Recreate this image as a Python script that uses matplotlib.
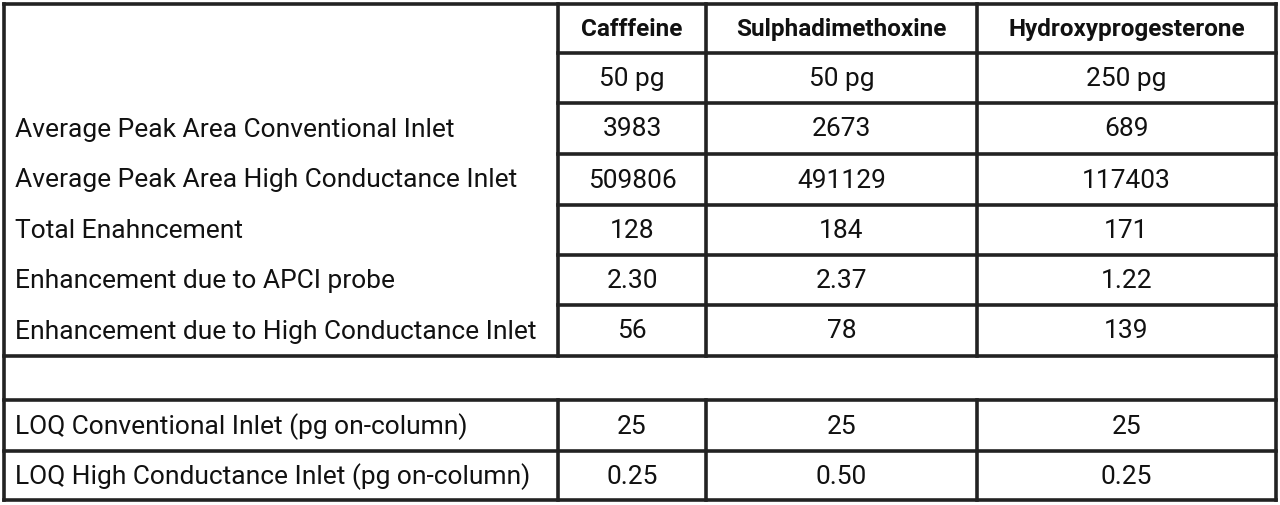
import matplotlib
matplotlib.use("Agg")
import matplotlib.pyplot as plt

compounds = ["Cafffeine", "Sulphadimethoxine", "Hydroxyprogesterone"]
amounts = ["50 pg", "50 pg", "250 pg"]
row_labels = ["Average Peak Area Conventional Inlet",
              "Average Peak Area High Conductance Inlet",
              "Total Enahncement",
              "Enhancement due to APCI probe",
              "Enhancement due to High Conductance Inlet"]
row_values = [["3983", "2673", "689"],
              ["509806", "491129", "117403"],
              ["128", "184", "171"],
              ["2.30", "2.37", "1.22"],
              ["56", "78", "139"]]
loq_labels = ["LOQ Conventional Inlet (pg on-column)",
              "LOQ High Conductance Inlet (pg on-column)"]
loq_values = [["25", "25", "25"], ["0.25", "0.50", "0.25"]]

W, H = 1280, 505
fig = plt.figure(figsize=(12.8, 5.05), dpi=100)
ax = fig.add_axes([0, 0, 1, 1])
ax.set_xlim(0, W); ax.set_ylim(H, 0); ax.axis("off")

fam = ["Roboto", "DejaVu Sans"]
lw = 2.6; col = "#222222"
xs = [4, 558, 706, 977, 1276]
ys = [4, 53, 103, 154, 205, 255, 305, 356, 400, 451, 500]

def hl(y, x0, x1): ax.plot([x0, x1], [y, y], color=col, lw=lw, solid_capstyle="projecting")
def vl(x, y0, y1): ax.plot([x, x], [y0, y1], color=col, lw=lw, solid_capstyle="projecting")

hl(ys[0], xs[0], xs[-1]); hl(ys[-1], xs[0], xs[-1])
vl(xs[0], ys[0], ys[-1]); vl(xs[-1], ys[0], ys[-1])
for y in ys[1:7]: hl(y, xs[1], xs[-1])
for y in [ys[7], ys[8], ys[9]]: hl(y, xs[0], xs[-1])
for x in xs[1:4]:
    vl(x, ys[0], ys[7]); vl(x, ys[8], ys[10])

def cx(i): return (xs[i + 1] + xs[i + 2]) / 2
def cy(r): return (ys[r] + ys[r + 1]) / 2 + 1

fs = 19
for i, c in enumerate(compounds):
    ax.text(cx(i), cy(0), c, ha="center", va="center", fontsize=17.5, fontweight="bold", family=fam, color="#111")
for i, a in enumerate(amounts):
    ax.text(cx(i), cy(1), a, ha="center", va="center", fontsize=fs, family=fam, color="#111")
for r, (lab, vals) in enumerate(zip(row_labels, row_values)):
    ax.text(15, cy(r + 2), lab, ha="left", va="center", fontsize=fs, family=fam, color="#111")
    for i, v in enumerate(vals):
        ax.text(cx(i), cy(r + 2), v, ha="center", va="center", fontsize=fs, family=fam, color="#111")
for r, (lab, vals) in enumerate(zip(loq_labels, loq_values)):
    ax.text(15, cy(r + 8), lab, ha="left", va="center", fontsize=fs, family=fam, color="#111")
    for i, v in enumerate(vals):
        ax.text(cx(i), cy(r + 8), v, ha="center", va="center", fontsize=fs, family=fam, color="#111")

fig.savefig("out.png", dpi=100, facecolor="white")
